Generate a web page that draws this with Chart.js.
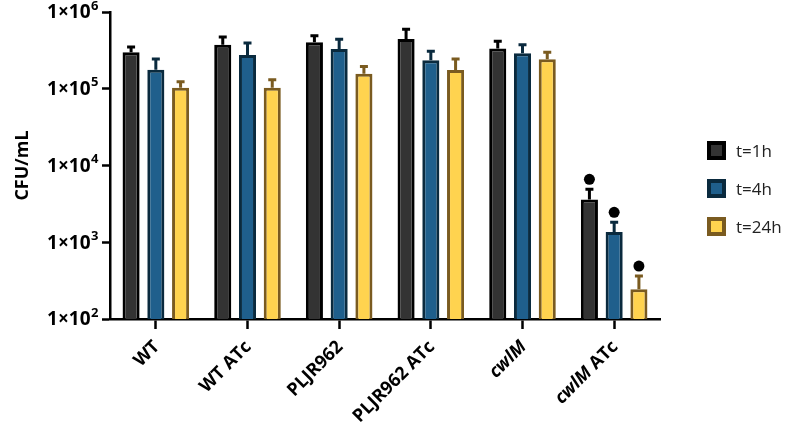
<!DOCTYPE html>
<html>
<head>
<meta charset="utf-8">
<script src="https://cdn.jsdelivr.net/npm/chart.js@4.4.1/dist/chart.umd.min.js"></script>
<style>
  html, body { margin: 0; padding: 0; background: #fff; }
  #wrap { position: relative; width: 794px; height: 427px; }
  #legend { position: absolute; left: 707px; top: 141px; font-family: "Open Sans", sans-serif; font-size: 17px; color: #222; }
  #legend .row { display: flex; align-items: center; height: 19px; margin-bottom: 19px; }
  #legend .box { width: 11px; height: 11px; border: 4px solid; margin-right: 10px; }
</style>
</head>
<body>
<div id="wrap">
  <canvas id="chart" width="794" height="427"></canvas>
  <div id="legend"></div>
</div>
<script>
// categories and values
const categories = ['WT', 'WT ATc', 'PLJR962', 'PLJR962 ATc', 'cwlM', 'cwlM ATc'];
const italicWords = ['cwlM'];

const seriesNames = ['t=1h', 't=4h', 't=24h'];
const t1h  = [3.0e5, 3.73e5, 4.03e5, 4.46e5, 3.34e5, 3.6e3];
const t4h  = [1.77e5, 2.76e5, 3.3e5, 2.36e5, 2.9e5, 1.36e3];
const t24h = [1.03e5, 1.03e5, 1.57e5, 1.75e5, 2.43e5, 245];

// upper end of error bars
const t1hErr  = [3.5e5, 4.73e5, 4.9e5, 5.96e5, 4.17e5, 4.9e3];
const t4hErr  = [2.45e5, 3.96e5, 4.4e5, 3.09e5, 3.73e5, 1.82e3];
const t24hErr = [1.23e5, 1.31e5, 1.95e5, 2.45e5, 2.99e5, 363];

// significance markers (category names)
const marked = ['cwlM ATc'];

const yTickExps = [2, 3, 4, 5, 6];

const fills   = ['#333333', '#1f5f8c', '#ffd34f'];
const borders = ['#000000', '#0a2a3e', '#7a5b20'];

const values = [t1h, t4h, t24h];
const errs = [t1hErr, t4hErr, t24hErr];

// legend
const legendEl = document.getElementById('legend');
seriesNames.forEach((name, i) => {
    const row = document.createElement('div');
    row.className = 'row';
    const box = document.createElement('div');
    box.className = 'box';
    box.style.background = fills[i];
    box.style.borderColor = borders[i];
    row.appendChild(box);
    row.appendChild(document.createTextNode(name));
    legendEl.appendChild(row);
});

const errorBars = {
    id: 'errorBars',
    afterDatasetsDraw(chart) {
        const ctx = chart.ctx;
        const y = chart.scales.y;
        chart.data.datasets.forEach((ds, di) => {
            const meta = chart.getDatasetMeta(di);
            meta.data.forEach((bar, i) => {
                const top = y.getPixelForValue(errs[di][i]);
                ctx.save();
                ctx.strokeStyle = borders[di];
                ctx.lineWidth = 3;
                ctx.beginPath();
                ctx.moveTo(bar.x, bar.y);
                ctx.lineTo(bar.x, top);
                ctx.moveTo(bar.x - 4, top);
                ctx.lineTo(bar.x + 4, top);
                ctx.stroke();
                if (marked.includes(categories[i])) {
                    ctx.fillStyle = '#000';
                    ctx.beginPath();
                    ctx.arc(bar.x, top - 10, 5.5, 0, Math.PI * 2);
                    ctx.fill();
                }
                ctx.restore();
            });
        });
    }
};

// y labels 1×10^n with a real superscript
const yLabels = {
    id: 'yLabels',
    afterDraw(chart) {
        const ctx = chart.ctx;
        const y = chart.scales.y;
        const right = chart.chartArea.left - 12;
        ctx.save();
        ctx.fillStyle = '#000';
        ctx.textBaseline = 'middle';
        ctx.textAlign = 'left';
        yTickExps.forEach(e => {
            const py = y.getPixelForValue(Math.pow(10, e)) + 1;
            ctx.font = 'bold 19px "Open Sans"';
            const base = '1×10';
            const wb = ctx.measureText(base).width;
            ctx.font = 'bold 13px "Open Sans"';
            const we = ctx.measureText(String(e)).width;
            const x0 = right - wb - we;
            ctx.font = 'bold 19px "Open Sans"';
            ctx.fillText(base, x0, py);
            ctx.font = 'bold 13px "Open Sans"';
            ctx.fillText(String(e), x0 + wb + 0.5, py - 7);
        });
        ctx.restore();
    }
};

// x labels, rotated, with italic gene names
const xLabels = {
    id: 'xLabels',
    afterDraw(chart) {
        const ctx = chart.ctx;
        const x = chart.scales.x;
        const base = chart.chartArea.bottom + 25;
        const font = '18px "Open Sans"';
        categories.forEach((cat, i) => {
            const parts = cat.split(' ').map((w, k, arr) => ({
                text: w + (k < arr.length - 1 ? ' ' : ''),
                italic: italicWords.includes(w)
            }));
            ctx.save();
            const px = x.getPixelForTick(i) + 1;
            ctx.translate(px, base);
            ctx.rotate(-Math.PI / 4);
            ctx.textBaseline = 'middle';
            ctx.textAlign = 'left';
            ctx.fillStyle = '#000';
            let total = 0;
            parts.forEach(p => {
                ctx.font = (p.italic ? 'italic ' : '') + 'bold ' + font;
                p.w = ctx.measureText(p.text).width;
                total += p.w;
            });
            let cx = -total;
            parts.forEach(p => {
                ctx.font = (p.italic ? 'italic ' : '') + 'bold ' + font;
                ctx.fillText(p.text, cx, 0);
                cx += p.w;
            });
            ctx.restore();
        });
    }
};

const ctx = document.getElementById('chart').getContext('2d');

new Chart(ctx, {
    type: 'bar',
    data: {
        labels: categories,
        datasets: seriesNames.map((name, i) => ({
            label: name,
            data: values[i],
            backgroundColor: fills[i],
            borderColor: borders[i],
            borderWidth: 3,
            borderSkipped: 'start',
            categoryPercentage: 0.81,
            barPercentage: 0.69
        }))
    },
    options: {
        responsive: false,
        animation: false,
        layout: {
            padding: { top: 12, right: 134, left: 0, bottom: 0 }
        },
        plugins: {
            legend: { display: false },
            tooltip: { enabled: false }
        },
        scales: {
            x: {
                type: 'category',
                offset: true,
                grid: {
                    offset: false,
                    drawOnChartArea: false,
                    drawTicks: true,
                    tickLength: 10,
                    tickWidth: 2.5,
                    tickColor: '#000'
                },
                border: { display: true, color: '#000', width: 2.5 },
                ticks: { display: false },
                afterFit(scale) { scale.height = 108; }
            },
            y: {
                type: 'logarithmic',
                min: 100,
                max: 1e6,
                afterBuildTicks(scale) {
                    scale.ticks = yTickExps.map(e => ({ value: Math.pow(10, e) }));
                },
                grid: {
                    drawOnChartArea: false,
                    drawTicks: true,
                    tickLength: 8,
                    tickWidth: 2.5,
                    tickColor: '#000'
                },
                border: { display: true, color: '#000', width: 2.5 },
                ticks: { display: false },
                title: {
                    display: true,
                    text: 'CFU/mL',
                    color: '#000',
                    font: { family: '"Open Sans"', size: 18, weight: 'bold' },
                    padding: { top: 12, bottom: 4 }
                },
                afterFit(scale) { scale.width = 110; }
            }
        }
    },
    plugins: [errorBars, yLabels, xLabels]
});
</script>
</body>
</html>
